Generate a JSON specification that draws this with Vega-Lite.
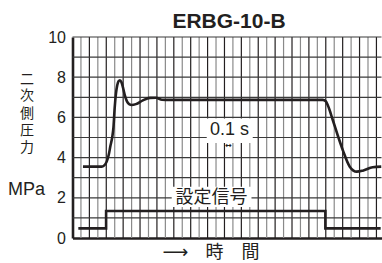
{
  "$schema": "https://vega.github.io/schema/vega-lite/v6.json",
  "width": 309,
  "height": 201,
  "autosize": {"type": "none"},
  "padding": {"left": 72.5, "top": 37, "right": 0.5, "bottom": 25},
  "background": "white",
  "title": {"text": "ERBG-10-B", "font": "Liberation Sans", "fontSize": 21, "fontWeight": "bold", "color": "#231f20", "anchor": "middle", "dx": 2, "dy": 22, "offset": 2, "baseline": "alphabetic"},
  "config": {"view": {"stroke": null}},
  "datasets": {
    "vgrid": [
      {"t": 1}, {"t": 2}, {"t": 3}, {"t": 4}, {"t": 5}, {"t": 6}, {"t": 7}, {"t": 8}, {"t": 9}, {"t": 10},
      {"t": 11}, {"t": 12}, {"t": 13}, {"t": 14}, {"t": 15}, {"t": 16}, {"t": 17}, {"t": 18}, {"t": 19}, {"t": 20},
      {"t": 21}, {"t": 22}, {"t": 23}, {"t": 24}, {"t": 25}, {"t": 26}, {"t": 27}, {"t": 28}, {"t": 29}, {"t": 30},
      {"t": 31}, {"t": 32}, {"t": 33}, {"t": 34}, {"t": 35}, {"t": 36}
    ],
    "hgrid": [
      {"p": 1}, {"p": 2}, {"p": 3}, {"p": 4}, {"p": 5}, {"p": 6}, {"p": 7}, {"p": 8}, {"p": 9}, {"p": 10}
    ],
    "curve": [
      {"i": 0, "t": 1.24, "p": 3.55},
      {"i": 1, "t": 3.46, "p": 3.55},
      {"i": 2, "t": 3.73, "p": 3.6},
      {"i": 3, "t": 4.05, "p": 3.8},
      {"i": 4, "t": 4.3, "p": 4.15},
      {"i": 5, "t": 4.5, "p": 4.6},
      {"i": 6, "t": 4.7, "p": 5.0},
      {"i": 7, "t": 4.85, "p": 5.5},
      {"i": 8, "t": 5.0, "p": 6.5},
      {"i": 9, "t": 5.15, "p": 7.2},
      {"i": 10, "t": 5.3, "p": 7.6},
      {"i": 11, "t": 5.45, "p": 7.8},
      {"i": 12, "t": 5.62, "p": 7.85},
      {"i": 13, "t": 5.8, "p": 7.75},
      {"i": 14, "t": 6.0, "p": 7.45},
      {"i": 15, "t": 6.2, "p": 7.1},
      {"i": 16, "t": 6.45, "p": 6.8},
      {"i": 17, "t": 6.75, "p": 6.65},
      {"i": 18, "t": 7.0, "p": 6.62},
      {"i": 19, "t": 7.51, "p": 6.66},
      {"i": 20, "t": 8.34, "p": 6.85},
      {"i": 21, "t": 9.17, "p": 6.97},
      {"i": 22, "t": 9.88, "p": 6.98},
      {"i": 23, "t": 10.6, "p": 6.88},
      {"i": 24, "t": 11.5, "p": 6.87},
      {"i": 25, "t": 29.64, "p": 6.87},
      {"i": 26, "t": 30.0, "p": 6.8},
      {"i": 27, "t": 30.24, "p": 6.6},
      {"i": 28, "t": 30.83, "p": 5.87},
      {"i": 29, "t": 31.42, "p": 5.1},
      {"i": 30, "t": 32.01, "p": 4.38},
      {"i": 31, "t": 32.84, "p": 3.55},
      {"i": 32, "t": 33.67, "p": 3.3},
      {"i": 33, "t": 34.38, "p": 3.35},
      {"i": 34, "t": 35.56, "p": 3.52},
      {"i": 35, "t": 36.57, "p": 3.55}
    ],
    "signal": [
      {"i": 0, "t": 0.69, "p": 0.48},
      {"i": 1, "t": 3.98, "p": 0.48},
      {"i": 2, "t": 3.98, "p": 1.34},
      {"i": 3, "t": 29.95, "p": 1.34},
      {"i": 4, "t": 29.95, "p": 0.48},
      {"i": 5, "t": 36.5, "p": 0.48}
    ],
    "boxes": [
      {"t1": 11.75, "t2": 21.2, "p1": 1.54, "p2": 2.55},
      {"t1": 15.9, "t2": 21.35, "p1": 4.73, "p2": 5.95}
    ],
    "signalLabel": [
      {"label": "設定信号", "t": 16.45, "p": 2.0}
    ],
    "yTitle": [
      {"label": "二", "t": -5.38, "p": 7.86},
      {"label": "次", "t": -5.38, "p": 7.06},
      {"label": "側", "t": -5.38, "p": 6.17},
      {"label": "圧", "t": -5.38, "p": 5.32},
      {"label": "力", "t": -5.38, "p": 4.48}
    ],
    "latin": [
      {"label": "0.1 s", "t": 18.6, "p": 5.37},
      {"label": "MPa", "t": -5.44, "p": 2.39}
    ],
    "arrow": [
      {"label": "↔", "t": 18.5, "p": 4.58}
    ]
  },
  "layer": [
    {
      "data": {"name": "vgrid"},
      "mark": {"type": "rule", "strokeWidth": 1.2},
      "encoding": {
        "x": {
          "field": "t", "type": "quantitative",
          "scale": {"domain": [0, 36.6], "nice": false, "zero": false},
          "axis": {
            "labels": false, "ticks": false, "grid": false,
            "domain": true, "domainColor": "#231f20", "domainWidth": 2.4,
            "title": "⟶\u00a0\u00a0\u00a0時　間",
            "titleFont": "DejaVu Sans, Noto Sans CJK JP",
            "titleFontSize": 18, "titleFontWeight": "normal", "titleColor": "#231f20",
            "titleX": 138, "titleY": 14, "titleAlign": "center", "titleBaseline": "middle"
          }
        },
        "color": {"condition": {"test": "datum.t % 2 === 0", "value": "#231f20"}, "value": "#8a8a8a"}
      }
    },
    {
      "data": {"name": "hgrid"},
      "mark": {"type": "rule", "strokeWidth": 1.2, "color": "#3a3a3a"},
      "encoding": {
        "y": {
          "field": "p", "type": "quantitative",
          "scale": {"domain": [0, 10], "nice": false},
          "axis": {
            "values": [0, 2, 4, 6, 8, 10],
            "labelFont": "Liberation Sans", "labelFontSize": 16, "labelColor": "#231f20",
            "labelPadding": 7, "ticks": false, "tickSize": 0, "grid": false,
            "domain": true, "domainColor": "#231f20", "domainWidth": 2.6,
            "title": null
          }
        }
      }
    },
    {
      "data": {"name": "curve"},
      "mark": {"type": "line", "interpolate": "monotone", "stroke": "#231f20", "strokeWidth": 2.6},
      "encoding": {
        "x": {"field": "t", "type": "quantitative"},
        "y": {"field": "p", "type": "quantitative"},
        "order": {"field": "i", "type": "quantitative"}
      }
    },
    {
      "data": {"name": "signal"},
      "mark": {"type": "line", "interpolate": "linear", "stroke": "#231f20", "strokeWidth": 2.6},
      "encoding": {
        "x": {"field": "t", "type": "quantitative"},
        "y": {"field": "p", "type": "quantitative"},
        "order": {"field": "i", "type": "quantitative"}
      }
    },
    {
      "data": {"name": "boxes"},
      "mark": {"type": "rect", "fill": "white", "stroke": null},
      "encoding": {
        "x": {"field": "t1", "type": "quantitative"},
        "x2": {"field": "t2"},
        "y": {"field": "p1", "type": "quantitative"},
        "y2": {"field": "p2"}
      }
    },
    {
      "data": {"name": "signalLabel"},
      "mark": {"type": "text", "font": "Noto Sans CJK JP", "fontSize": 18, "color": "#231f20", "align": "center", "baseline": "middle"},
      "encoding": {
        "x": {"field": "t", "type": "quantitative"},
        "y": {"field": "p", "type": "quantitative"},
        "text": {"field": "label"}
      }
    },
    {
      "data": {"name": "yTitle"},
      "mark": {"type": "text", "font": "Noto Sans CJK JP", "fontSize": 14, "color": "#231f20", "align": "center", "baseline": "middle"},
      "encoding": {
        "x": {"field": "t", "type": "quantitative"},
        "y": {"field": "p", "type": "quantitative"},
        "text": {"field": "label"}
      }
    },
    {
      "data": {"name": "latin"},
      "mark": {"type": "text", "font": "Liberation Sans", "fontSize": 18, "color": "#231f20", "align": "center", "baseline": "middle"},
      "encoding": {
        "x": {"field": "t", "type": "quantitative"},
        "y": {"field": "p", "type": "quantitative"},
        "text": {"field": "label"}
      }
    },
    {
      "data": {"name": "arrow"},
      "mark": {"type": "text", "font": "DejaVu Sans", "fontSize": 8, "fontWeight": "bold", "color": "#231f20", "align": "center", "baseline": "middle"},
      "encoding": {
        "x": {"field": "t", "type": "quantitative"},
        "y": {"field": "p", "type": "quantitative"},
        "text": {"field": "label"}
      }
    }
  ]
}
